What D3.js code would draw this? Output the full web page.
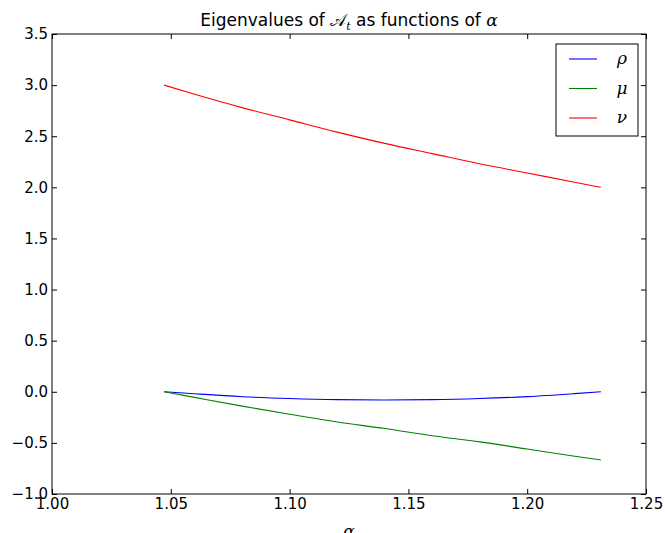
<!DOCTYPE html>
<html>
<head>
<meta charset="utf-8">
<script src="https://cdn.jsdelivr.net/npm/d3@7"></script>
<style>
  body { margin: 0; background: #fff; }
  svg { display: block; }
  .tick text { font-family: "DejaVu Sans", sans-serif; font-size: 15px; fill: #000; }
</style>
</head>
<body>
<div class="graph"></div>
<script>
// alpha from pi/3 to arccos(1/3)
const alpha = [1.0472, 1.06, 1.08, 1.10, 1.12, 1.14, 1.16, 1.18, 1.20, 1.22, 1.231];
const rho   = [0.0, -0.02, -0.048, -0.066, -0.077, -0.08, -0.077, -0.066, -0.047, -0.018, 0.0];
const mu    = [0.0, -0.055, -0.14, -0.22, -0.295, -0.36, -0.43, -0.49, -0.56, -0.63, -0.667];
const nu    = [3.0, 2.91, 2.78, 2.66, 2.54, 2.43, 2.33, 2.23, 2.14, 2.05, 2.0];
const xTicks = [1.00, 1.05, 1.10, 1.15, 1.20, 1.25];
const yTicks = [-1.0, -0.5, 0.0, 0.5, 1.0, 1.5, 2.0, 2.5, 3.0, 3.5];
const series = [
  {name: "ρ", values: rho, color: "#0000ff"},
  {name: "μ", values: mu, color: "#008000"},
  {name: "ν", values: nu, color: "#ff0000"}
];

const W = 665, H = 533;
const mLeft = 52, mRight = 646, mTop = 34, mBottom = 494;

const svg = d3.select(".graph").append("svg").attr("width", W).attr("height", H);

const x = d3.scaleLinear().domain([1.0, 1.25]).range([mLeft, mRight]);
const y = d3.scaleLinear().domain([-1.0, 3.5]).range([mBottom, mTop]);

// lines
const line = d3.line().x((d, i) => x(alpha[i])).y(d => y(d)).curve(d3.curveMonotoneX);
series.forEach(s => {
  svg.append("path")
    .attr("d", line(s.values))
    .attr("fill", "none")
    .attr("stroke", s.color)
    .attr("stroke-width", 1.1);
});

// axes, ticks point inward like classic matplotlib
const fmt = d3.format(".2f");
const fmtY = d => d < 0 ? "\u2212" + Math.abs(d).toFixed(1) : d.toFixed(1);
svg.append("g").attr("transform", "translate(0," + mBottom + ")")
  .call(d3.axisBottom(x).tickValues(xTicks).tickFormat(fmt).tickSizeInner(-5).tickSizeOuter(0).tickPadding(4))
  .call(g => g.select(".domain").remove());
svg.append("g").attr("transform", "translate(0," + mTop + ")")
  .call(d3.axisTop(x).tickValues(xTicks).tickFormat("").tickSizeInner(-5).tickSizeOuter(0))
  .call(g => g.select(".domain").remove());
svg.append("g").attr("transform", "translate(" + mLeft + ",0)")
  .call(d3.axisLeft(y).tickValues(yTicks).tickFormat(fmtY).tickSizeInner(-5).tickSizeOuter(0).tickPadding(4))
  .call(g => g.select(".domain").remove());
svg.append("g").attr("transform", "translate(" + mRight + ",0)")
  .call(d3.axisRight(y).tickValues(yTicks).tickFormat("").tickSizeInner(-5).tickSizeOuter(0))
  .call(g => g.select(".domain").remove());

svg.selectAll(".tick line").attr("stroke", "#000");
svg.selectAll(".tick text").attr("fill", "#000");

// frame
svg.append("rect")
  .attr("x", mLeft).attr("y", mTop)
  .attr("width", mRight - mLeft).attr("height", mBottom - mTop)
  .attr("fill", "none").attr("stroke", "#000").attr("stroke-width", 1);

// title
const title = svg.append("text")
  .attr("x", (mLeft + mRight) / 2).attr("y", 26)
  .attr("text-anchor", "middle")
  .style("font-family", "DejaVu Sans, sans-serif")
  .style("font-size", "17px");
title.append("tspan").text("Eigenvalues of ");
title.append("tspan").text("𝒜").style("font-family", "DejaVu Serif, serif");
title.append("tspan").text("t").attr("dy", 4).style("font-size", "11px")
  .style("font-style", "italic").style("font-family", "DejaVu Serif, serif");
title.append("tspan").text(" as functions of ").attr("dy", -4);
title.append("tspan").text("α").style("font-style", "italic").style("font-family", "DejaVu Serif, serif");

// x label
svg.append("text")
  .attr("x", (mLeft + mRight) / 2).attr("y", 537)
  .attr("text-anchor", "middle")
  .style("font-family", "DejaVu Serif, serif")
  .style("font-style", "italic")
  .style("font-size", "17px")
  .text("α");

// legend
const lg = svg.append("g");
lg.append("rect")
  .attr("x", 556).attr("y", 44).attr("width", 82).attr("height", 92)
  .attr("fill", "#fff").attr("stroke", "#000").attr("stroke-width", 1);
series.forEach((s, i) => {
  const ly = 59 + i * 29.5;
  lg.append("line")
    .attr("x1", 569).attr("x2", 597).attr("y1", ly).attr("y2", ly)
    .attr("stroke", s.color).attr("stroke-width", 1.1);
  lg.append("text")
    .attr("x", 622).attr("y", ly + 5)
    .attr("text-anchor", "middle")
    .style("font-family", "DejaVu Serif, serif")
    .style("font-style", "italic")
    .style("font-size", "17px")
    .text(s.name);
});
</script>
</body>
</html>
